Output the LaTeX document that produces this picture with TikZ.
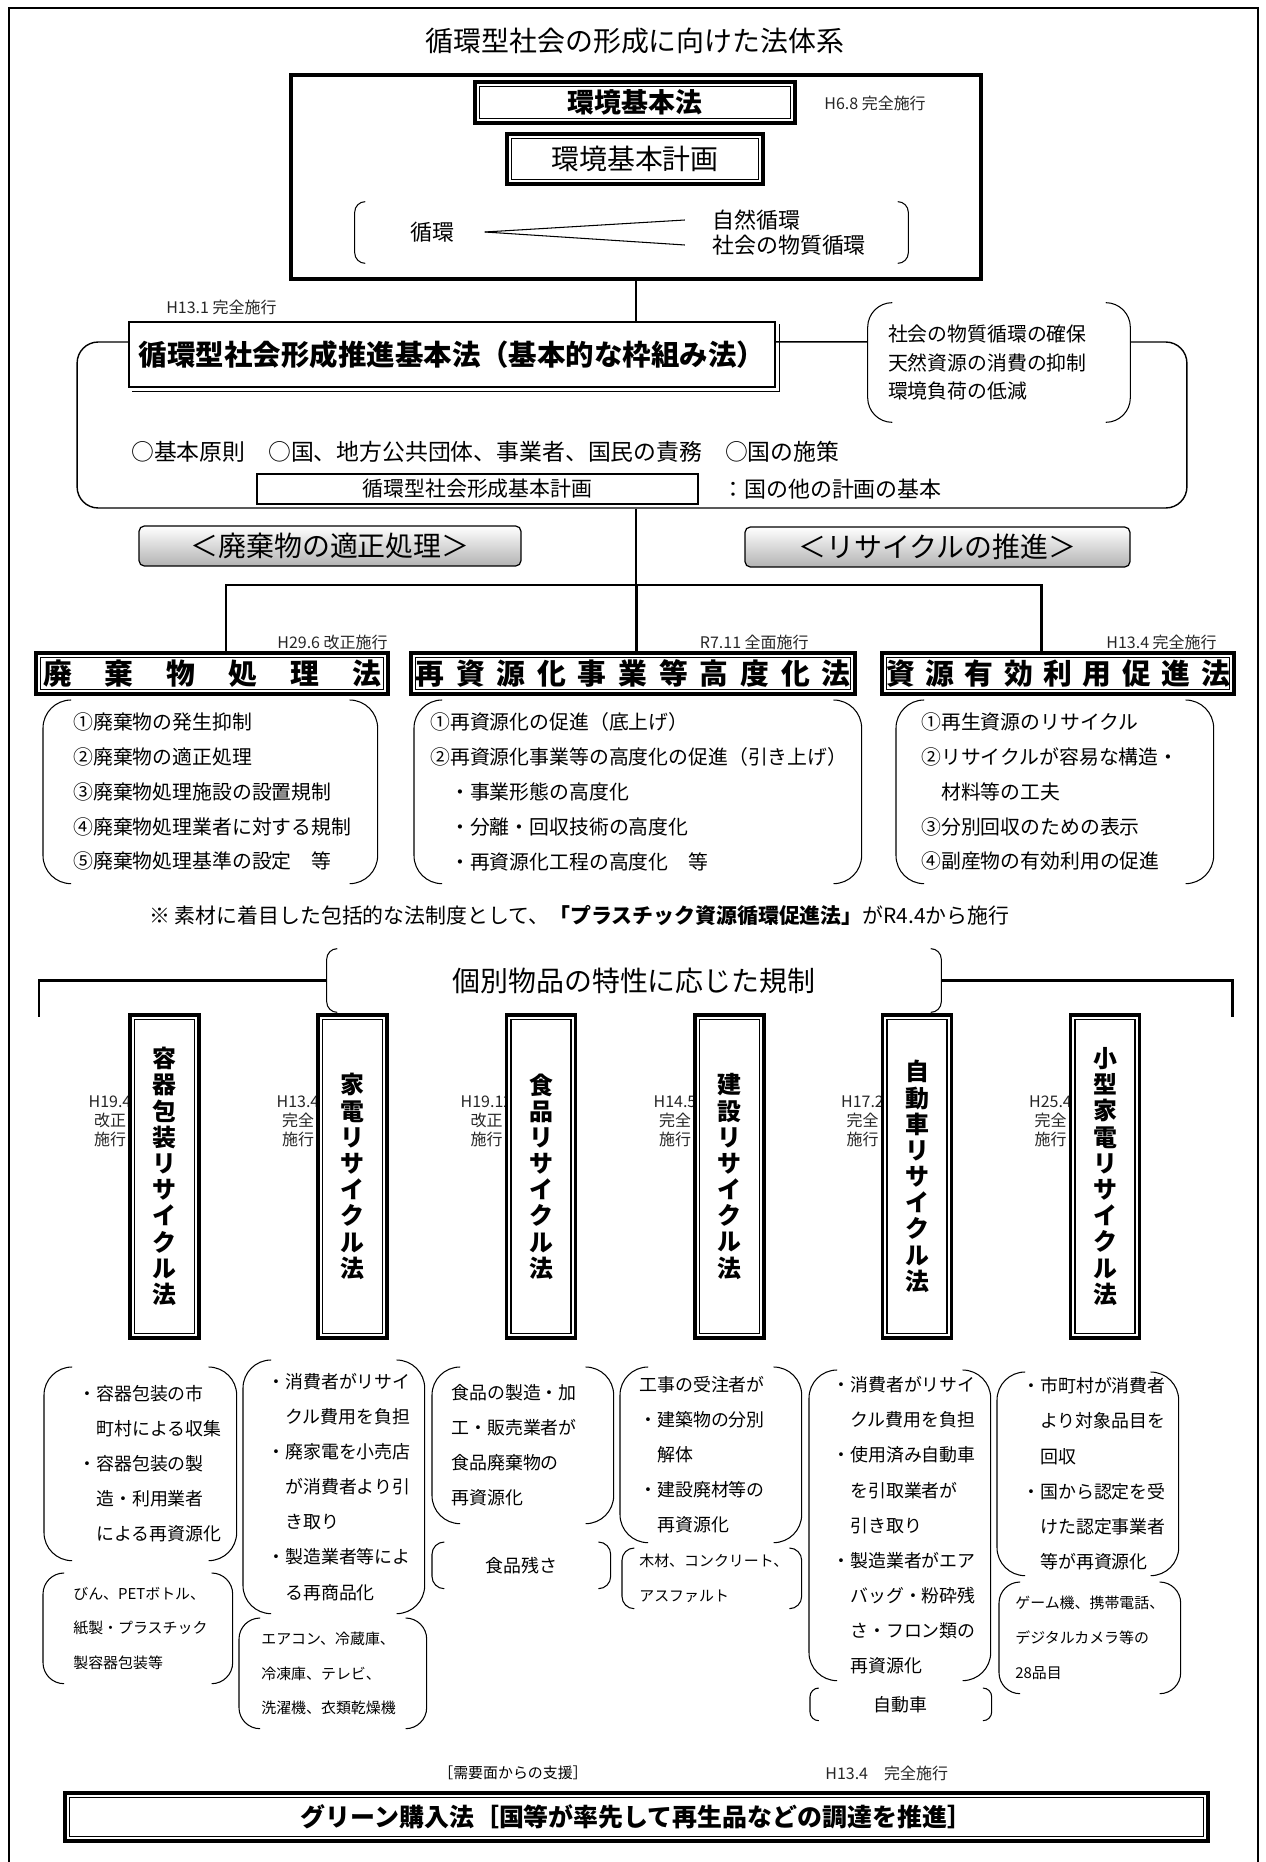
\documentclass[tikz,border=0pt]{standalone}
\usepackage{fontspec}
\setmainfont{Noto Sans CJK JP}
\usetikzlibrary{calc,positioning}
\tikzstyle{thickln}=[line width=1.7pt]
\tikzstyle{midln}=[line width=0.9pt]
\tikzstyle{thinln}=[line width=0.6pt]
\tikzstyle{dblbox}=[draw, line width=1.9pt, fill=white, inner sep=0, path picture={\draw[line width=0.7pt] ([shift={(2.6pt,-2.6pt)}]path picture bounding box.north west) rectangle ([shift={(-2.6pt,2.6pt)}]path picture bounding box.south east);}]
\tikzstyle{grybox}=[draw, line width=0.7pt, rounded corners=3pt, top color=white, bottom color=black!30, minimum height=0.8cm, font=\fontsize{15.9pt}{17pt}\selectfont]
\tikzstyle{datefont}=[inner sep=0, text=black!85, font=\fontsize{9.1pt}{10.8pt}\selectfont]
\tikzstyle{lstT}=[anchor=north west, inner ysep=0, align=left, font=\fontsize{11.3pt}{19.8pt}\selectfont]
\tikzstyle{lstA}=[lstT, font=\fontsize{10.2pt}{20pt}\selectfont]
\tikzstyle{lstB}=[lstT, font=\fontsize{8.5pt}{19.8pt}\selectfont]
\newcommand{\kakko}[2][16pt]{%
\draw[thinln,rounded corners=#1] ([xshift=#1]#2.north west) -- (#2.north west) -- (#2.south west) -- ([xshift=#1]#2.south west);
\draw[thinln,rounded corners=#1] ([xshift=-#1]#2.north east) -- (#2.north east) -- (#2.south east) -- ([xshift=-#1]#2.south east);}

\begin{document}
\begin{tikzpicture}[x=0.02cm,y=-0.02cm]
\useasboundingbox (0,0) rectangle (1266,1862);
\draw[line width=1.4pt] (9,1880) -- (9,8) -- (1258,8) -- (1258,1880);
\node[font=\fontsize{15.9pt}{17pt}\selectfont] (title) at (635,41) {循環型社会の形成に向けた法体系};

% kankyo kihon ho
\node[draw, line width=2pt, minimum width=13.8cm, minimum height=4.08cm] (envfrm) at (636,177) {};
\node[dblbox, line width=2.2pt, minimum width=6.4cm, minimum height=0.82cm, font=\bfseries\fontsize{15.3pt}{16pt}\selectfont] (kankyo) at (635,102.5) {環境基本法};
\node[datefont, anchor=west] (kankyo-dt) at (824,103) {H6.8 完全施行};
\node[dblbox, minimum width=5.12cm, minimum height=1cm, font=\fontsize{15.9pt}{17pt}\selectfont] (keikaku) at (635,159) {環境基本計画};
\node[minimum width=11.06cm, minimum height=1.22cm] (cyc) at (631.5,232.5) {};
\kakko[6pt]{cyc}
\node[font=\fontsize{12.5pt}{14pt}\selectfont] (jun) at (432,232) {循環};
\node[anchor=west, font=\fontsize{12.5pt}{14pt}\selectfont] (shizen) at (706,220) {自然循環};
\node[anchor=west, font=\fontsize{12.5pt}{14pt}\selectfont] (shakai) at (706,245) {社会の物質循環};
\draw[thinln] ([xshift=14pt]jun.east) -- ([xshift=-12pt]shizen.west);
\draw[thinln] ([xshift=14pt]jun.east) -- ([xshift=-12pt]shakai.west);

% junkan kihon ho
\node[datefont, anchor=west] (kihon-dt) at (166,307) {H13.1 完全施行};
\node[draw, line width=0.8pt, rounded corners=12pt, minimum width=22.2cm, minimum height=3.32cm] (kfrm) at (632,425) {};
\node[draw, line width=1.2pt, fill=white, minimum width=12.92cm, minimum height=1.3cm, font=\bfseries\fontsize{16.2pt}{17pt}\selectfont] (kihon) at (452,354.5) {循環型社会形成推進基本法（基本的な枠組み法）};
\draw[line width=0.8pt] ([shift={(2pt,-2pt)}]kihon.north east) |- ([shift={(2pt,-2pt)}]kihon.south west);
\node[fill=white, minimum height=2.38cm, text width=4.44cm, inner xsep=0.4cm, align=left, font=\fontsize{11.3pt}{16.2pt}\selectfont] (mok) at (999,362.5) {社会の物質循環の確保\\天然資源の消費の抑制\\環境負荷の低減};
\kakko[14pt]{mok}
\draw[line width=0.8pt] (kihon.east |- kfrm.north) -- (mok.west |- kfrm.north);
\draw[midln] (envfrm.south) -- (envfrm.south |- kihon.north);
\node[anchor=west, font=\fontsize{13pt}{14pt}\selectfont] (gensoku) at (125,452) {○基本原則　○国、地方公共団体、事業者、国民の責務　○国の施策};
\node[draw, line width=1.6pt, minimum width=8.82cm, minimum height=0.6cm, inner sep=0, font=\fontsize{11.9pt}{13pt}\selectfont] (kplan) at (477.5,489) {循環型社会形成基本計画};
\node[anchor=west, font=\fontsize{12.5pt}{14pt}\selectfont] (kplan-note) at (716,489) {：国の他の計画の基本};

\node[grybox, minimum width=7.64cm] (tekisei) at (330,546) {＜廃棄物の適正処理＞};
\node[grybox, minimum width=7.7cm] (recyc) at (937.5,547) {＜リサイクルの推進＞};

% three laws
\coordinate (barL) at (226,585);
\coordinate (barR) at (1041,585);
\node[dblbox, minimum width=7.04cm, minimum height=0.82cm, font=\bfseries\fontsize{16.4pt}{18pt}\selectfont] (haiki) at (212,673.5) {\makebox[6.76cm]{廃\hfill 棄\hfill 物\hfill 処\hfill 理\hfill 法}};
\node[dblbox, minimum width=8.88cm, minimum height=0.82cm, font=\bfseries\fontsize{16.4pt}{18pt}\selectfont] (saishi) at (633,673.5) {\makebox[8.7cm]{再\hfill 資\hfill 源\hfill 化\hfill 事\hfill 業\hfill 等\hfill 高\hfill 度\hfill 化\hfill 法}};
\node[dblbox, minimum width=7.04cm, minimum height=0.82cm, font=\bfseries\fontsize{16.4pt}{18pt}\selectfont] (shigen) at (1058,673.5) {\makebox[6.88cm]{資\hfill 源\hfill 有\hfill 効\hfill 利\hfill 用\hfill 促\hfill 進\hfill 法}};
\draw[midln] (envfrm.south |- kfrm.south) -- (envfrm.south |- barL);
\draw[thickln] (barL |- haiki.north) -- (barL) -- (barR) -- (barR |- shigen.north);
\draw[thickln] (envfrm.south |- barL) -- (envfrm.south |- saishi.north);
\node[datefont, anchor=east] (haiki-dt) at (388,642) {H29.6 改正施行};
\node[datefont, anchor=east] (saishi-dt) at (809,642) {R7.11 全面施行};
\node[datefont, anchor=east] (shigen-dt) at (1217,642) {H13.4 完全施行};

\node[lstT, text width=5.48cm, inner xsep=0.6cm, minimum height=3.66cm] (haikiL) at (43,700) {①廃棄物の発生抑制\\②廃棄物の適正処理\\③廃棄物処理施設の設置規制\\④廃棄物処理業者に対する規制\\⑤廃棄物処理基準の設定　等};
\node[lstT, text width=8.3cm, inner xsep=0.32cm, minimum height=3.66cm] (saishiL) at (414,700) {①再資源化の促進（底上げ）\\②再資源化事業等の高度化の促進（引き上げ）\\　・事業形態の高度化\\　・分離・回収技術の高度化\\　・再資源化工程の高度化　等};
\node[lstT, text width=5.34cm, inner xsep=0.5cm, minimum height=3.66cm] (shigenL) at (896,700) {①再生資源のリサイクル\\②リサイクルが容易な構造・\\　材料等の工夫\\③分別回収のための表示\\④副産物の有効利用の促進};
\kakko{haikiL}
\kakko{saishiL}
\kakko{shigenL}

\node[anchor=west, font=\fontsize{11.9pt}{13pt}\selectfont] (plastic) at (143,916) {※ 素材に着目した包括的な法制度として、\textbf{「プラスチック資源循環促進法」}がR4.4から施行};

% individual recycling laws
\node[minimum width=12.28cm, minimum height=1.26cm, font=\fontsize{15.9pt}{17pt}\selectfont] (kobetsu) at (634,980.5) {個別物品の特性に応じた規制};
\kakko[6pt]{kobetsu}
\coordinate (kL) at (39,1017);
\coordinate (kR) at (1232,1017);
\draw[thickln] (kobetsu.west) -| (kL);
\draw[thickln] (kobetsu.east) -| (kR);
\foreach \nm/\cx/\txt/\dt/\dk in {yoki/164.5/{容\\器\\包\\装\\リ\\サ\\イ\\ク\\ル\\法}/H19.4/改正, kaden/352.5/{家\\電\\リ\\サ\\イ\\ク\\ル\\法}/H13.4/完全, shoku/541/{食\\品\\リ\\サ\\イ\\ク\\ル\\法}/H19.12/改正, ken/729.5/{建\\設\\リ\\サ\\イ\\ク\\ル\\法}/H14.5/完全, jido/917/{自\\動\\車\\リ\\サ\\イ\\ク\\ル\\法}/H17.2/完全, koga/1105/{小\\型\\家\\電\\リ\\サ\\イ\\ク\\ル\\法}/H25.4/完全}{
  \node[datefont, align=center] (\nm-dt) at (\cx-54.5,1121) {\dt\\\dk\\施行};
  \node[dblbox, minimum width=1.38cm, minimum height=6.46cm, align=center, font=\bfseries\fontsize{13.6pt}{14.9pt}\selectfont] (\nm) at (\cx,1176.5) {\txt};
}

\node[lstA, text width=2.48cm, inner xsep=0.68cm, minimum height=3.86cm] (yokiA) at (44,1367) {・容器包装の市\\　町村による収集\\・容器包装の製\\　造・利用業者\\　による再資源化};
\node[lstB, text width=2.58cm, inner xsep=0.6cm, minimum height=2.2cm] (yokiB) at (43,1573) {びん、PETボトル、\\紙製・プラスチック\\製容器包装等};
\node[lstA, text width=2.66cm, inner xsep=0.48cm, minimum height=5.06cm] (kadenA) at (243,1360) {・消費者がリサイ\\　クル費用を負担\\・廃家電を小売店\\　が消費者より引\\　き取り\\・製造業者等によ\\　る再商品化};
\node[lstB, text width=2.86cm, inner xsep=0.44cm, minimum height=2.2cm] (kadenB) at (239,1618) {エアコン、冷蔵庫、\\冷凍庫、テレビ、\\洗濯機、衣類乾燥機};
\node[lstA, text width=2.86cm, inner xsep=0.38cm, minimum height=3.12cm] (shokuA) at (432,1367) {食品の製造・加\\工・販売業者が\\食品廃棄物の\\再資源化};
\node[anchor=north west, inner sep=0, minimum width=3.56cm, minimum height=0.92cm, font=\fontsize{10.2pt}{12pt}\selectfont] (shokuB) at (432,1542) {食品残さ};
\node[lstA, text width=2.86cm, inner xsep=0.38cm, minimum height=3.5cm] (kenA) at (620,1367) {工事の受注者が\\・建築物の分別\\　解体\\・建設廃材等の\\　再資源化};
\node[lstB, text width=2.9cm, inner xsep=0.34cm, minimum height=1.2cm] (kenB) at (622,1548) {木材、コンクリート、\\アスファルト};
\node[lstA, text width=2.7cm, inner xsep=0.46cm, minimum height=6.2cm] (jidoA) at (809,1370) {・消費者がリサイ\\　クル費用を負担\\・使用済み自動車\\　を引取業者が\\　引き取り\\・製造業者がエア\\　バッグ・粉砕残\\　さ・フロン類の\\　再資源化};
\node[anchor=north west, inner sep=0, minimum width=3.62cm, minimum height=0.64cm, font=\fontsize{10.2pt}{12pt}\selectfont] (jidoB) at (810,1688) {自動車};
\node[lstA, text width=2.62cm, inner xsep=0.5cm, minimum height=4.06cm] (kogaA) at (997,1372) {・市町村が消費者\\　より対象品目を\\　回収\\・国から認定を受\\　けた認定事業者\\　等が再資源化};
\node[lstB, text width=2.98cm, inner xsep=0.32cm, minimum height=2.22cm] (kogaB) at (999,1582) {ゲーム機、携帯電話、\\デジタルカメラ等の\\28品目};
\kakko{yokiA}
\kakko[12pt]{yokiB}
\kakko{kadenA}
\kakko[12pt]{kadenB}
\kakko{shokuA}
\kakko[7pt]{shokuB}
\kakko{kenA}
\kakko[7pt]{kenB}
\kakko{jidoA}
\kakko[5pt]{jidoB}
\kakko{kogaA}
\kakko[12pt]{kogaB}

% green
\node[font=\fontsize{8.5pt}{9pt}\selectfont] (juyo) at (513,1773) {［需要面からの支援］};
\node[datefont, anchor=west] (green-dt) at (825,1773) {H13.4　完全施行};
\node[dblbox, minimum width=22.86cm, minimum height=0.96cm, font=\bfseries\fontsize{14.2pt}{15pt}\selectfont] (green) at (636.5,1817) {グリーン購入法［国等が率先して再生品などの調達を推進］};
\end{tikzpicture}
\end{document}
